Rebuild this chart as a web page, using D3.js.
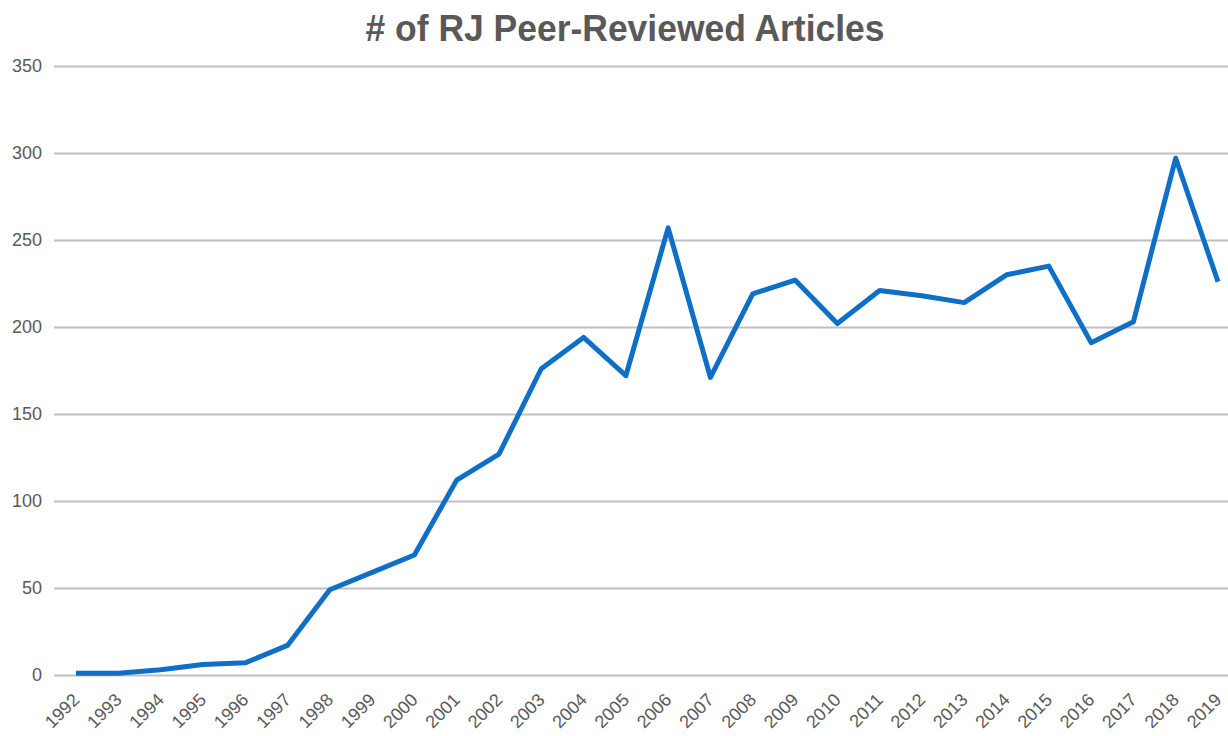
<!DOCTYPE html>
<html>
<head>
<meta charset="utf-8">
<script src="https://cdn.jsdelivr.net/npm/d3@7"></script>
<style>
  body { margin: 0; background: #fff; }
  svg { display: block; font-family: "Liberation Sans", Arial, sans-serif; }
</style>
</head>
<body>
<div id="chart"></div>
<script>
// data
const years = ["1992","1993","1994","1995","1996","1997","1998","1999","2000","2001",
               "2002","2003","2004","2005","2006","2007","2008","2009","2010","2011",
               "2012","2013","2014","2015","2016","2017","2018","2019"];
const articles = [1, 1, 3, 6, 7, 17, 49, 59, 69, 112,
                  127, 176, 194, 172, 257, 171, 219, 227, 202, 221,
                  218, 214, 230, 235, 191, 203, 297, 226];
const yTicks = [0, 50, 100, 150, 200, 250, 300, 350];

const width = 1228, height = 736;
const plot = { left: 54, right: 1228, top: 66, bottom: 675 };

const svg = d3.select("#chart").append("svg")
    .attr("width", width)
    .attr("height", height);

// category positions, Excel style (points in the middle of each band)
const band = (1218 - 76) / (years.length - 1);
const x = d3.scalePoint()
    .domain(years)
    .range([76, 76 + band * (years.length - 1)]);

const y = d3.scaleLinear()
    .domain([0, 350])
    .range([plot.bottom, plot.top]);

// title (a bit condensed in the original)
svg.append("text")
    .attr("x", 625)
    .attr("y", 41)
    .attr("text-anchor", "middle")
    .attr("font-size", 36)
    .attr("font-weight", "bold")
    .attr("fill", "#595959")
    .attr("textLength", 519)
    .attr("lengthAdjust", "spacingAndGlyphs")
    .text("# of RJ Peer-Reviewed Articles");

// horizontal grid
const yAxis = d3.axisLeft(y)
    .tickValues(yTicks)
    .tickSize(-(plot.right - plot.left))
    .tickPadding(12);

const gy = svg.append("g")
    .attr("transform", `translate(${plot.left},0)`)
    .call(yAxis);
gy.select(".domain").remove();
gy.selectAll(".tick line")
    .attr("stroke", "#bfbfbf")
    .attr("stroke-width", 2);
gy.selectAll(".tick text")
    .attr("font-size", 18)
    .attr("fill", "#595959")
    .attr("font-family", "Liberation Sans, Arial, sans-serif");

// x axis labels, rotated
const xAxis = d3.axisBottom(x).tickSize(0).tickPadding(0);
const gx = svg.append("g")
    .attr("transform", `translate(0,${plot.bottom})`)
    .call(xAxis);
gx.select(".domain").remove();
gx.selectAll(".tick text")
    .attr("font-size", 18)
    .attr("fill", "#595959")
    .attr("font-family", "Liberation Sans, Arial, sans-serif")
    .attr("text-anchor", "end")
    .attr("dy", 0)
    .attr("transform", "translate(4,26) rotate(-45)");

// line
const line = d3.line()
    .x((d, i) => x(years[i]))
    .y(d => y(d));

svg.append("path")
    .datum(articles)
    .attr("d", line)
    .attr("fill", "none")
    .attr("stroke", "#0f6fc6")
    .attr("stroke-width", 5)
    .attr("stroke-linejoin", "round")
    .attr("stroke-linecap", "butt");
</script>
</body>
</html>
